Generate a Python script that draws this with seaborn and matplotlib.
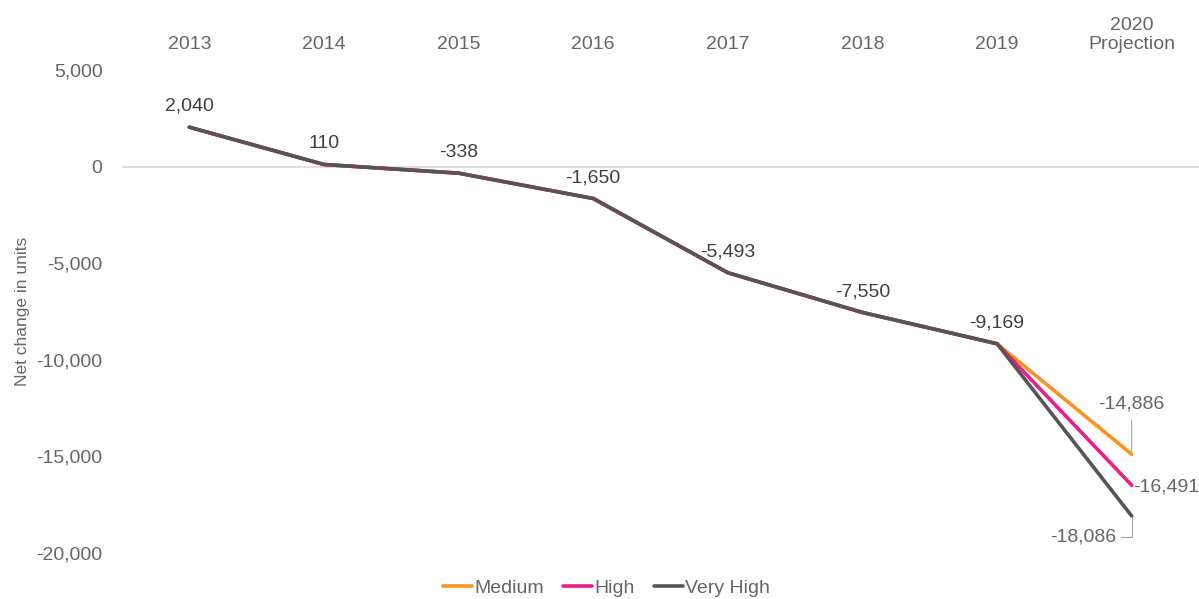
import pandas as pd
import numpy as np
import matplotlib
matplotlib.use('Agg')
import matplotlib.pyplot as plt
import seaborn as sns

years = ['2013', '2014', '2015', '2016', '2017', '2018', '2019', '2020\nProjection']
history = [2040, 110, -338, -1650, -5493, -7550, -9169]
scenarios = ['Medium', 'High', 'Very High']
proj_2020 = [-14886, -16491, -18086]
colors = ['#F7941D', '#EC1C8C', '#555555']

# long form table: every scenario shares the history, then splits in 2020
rows = []
for s, p in zip(scenarios, proj_2020):
    for i, v in enumerate(history + [p]):
        rows.append({'pos': i, 'value': v, 'scenario': s})
df = pd.DataFrame(rows)

sns.set_theme(style='white')
plt.rcParams['font.family'] = ['Liberation Sans', 'DejaVu Sans']

fs = 14
fig = plt.figure(figsize=(11.99, 5.99), dpi=100)
ax = fig.add_axes([0.1018, 0.0768, 0.8982, 0.8063])

ax.axhline(0, color='#d9d9d9', lw=1.2, zorder=0)
sns.lineplot(data=df, x='pos', y='value', hue='scenario', hue_order=scenarios,
             palette=colors, lw=2.6, ax=ax, legend=True)

ax.set_xlim(-0.5, len(years) - 0.5)
ax.set_ylim(-20000, 5000)
ax.set_yticks(np.arange(-20000, 5001, 5000))
ax.set_yticklabels([f'{v:,}' for v in np.arange(-20000, 5001, 5000)])
ax.set_xticks(range(len(years)))
ax.set_xticklabels(years)
ax.xaxis.tick_top()
ax.tick_params(axis='both', length=0, labelsize=fs, colors='#666666')
ax.tick_params(axis='x', pad=12)
ax.tick_params(axis='y', pad=14)
for sp in ax.spines.values():
    sp.set_visible(False)
ax.set_xlabel('')
ax.set_ylabel('Net change in units', fontsize=12.5, color='#666666', labelpad=5)

# data labels for the shared history
for i, v in enumerate(history):
    ax.annotate(f'{v:,}', (i, v), xytext=(0, 15), textcoords='offset points',
                ha='center', va='center', fontsize=fs, color='#404040')

last = len(years) - 1
ax.annotate(f'{proj_2020[0]:,}', (last, proj_2020[0]), xytext=(0, 36),
            textcoords='offset points', ha='center', va='center',
            fontsize=fs, color='#666666',
            arrowprops=dict(arrowstyle='-', color='#a6a6a6', lw=0.8,
                            shrinkA=3, shrinkB=1))
ax.annotate(f'{proj_2020[1]:,}', (last, proj_2020[1]), xytext=(1, -1),
            textcoords='offset points', ha='left', va='center',
            fontsize=fs, color='#666666')
ax.annotate(f'{proj_2020[2]:,}', (last, proj_2020[2]), xytext=(-11, -15),
            textcoords='offset points', ha='right', va='center',
            fontsize=fs, color='#666666',
            arrowprops=dict(arrowstyle='-', color='#a6a6a6', lw=0.8,
                            shrinkA=1, shrinkB=1,
                            connectionstyle='angle,angleA=0,angleB=90,rad=0'))

leg = ax.legend(loc='center', bbox_to_anchor=(0.45, -0.072), ncol=3,
                frameon=False, fontsize=fs, handlelength=1.5,
                handletextpad=0.1, columnspacing=1.0)
for t in leg.get_texts():
    t.set_color('#666666')

fig.savefig('out.png', dpi=100)
